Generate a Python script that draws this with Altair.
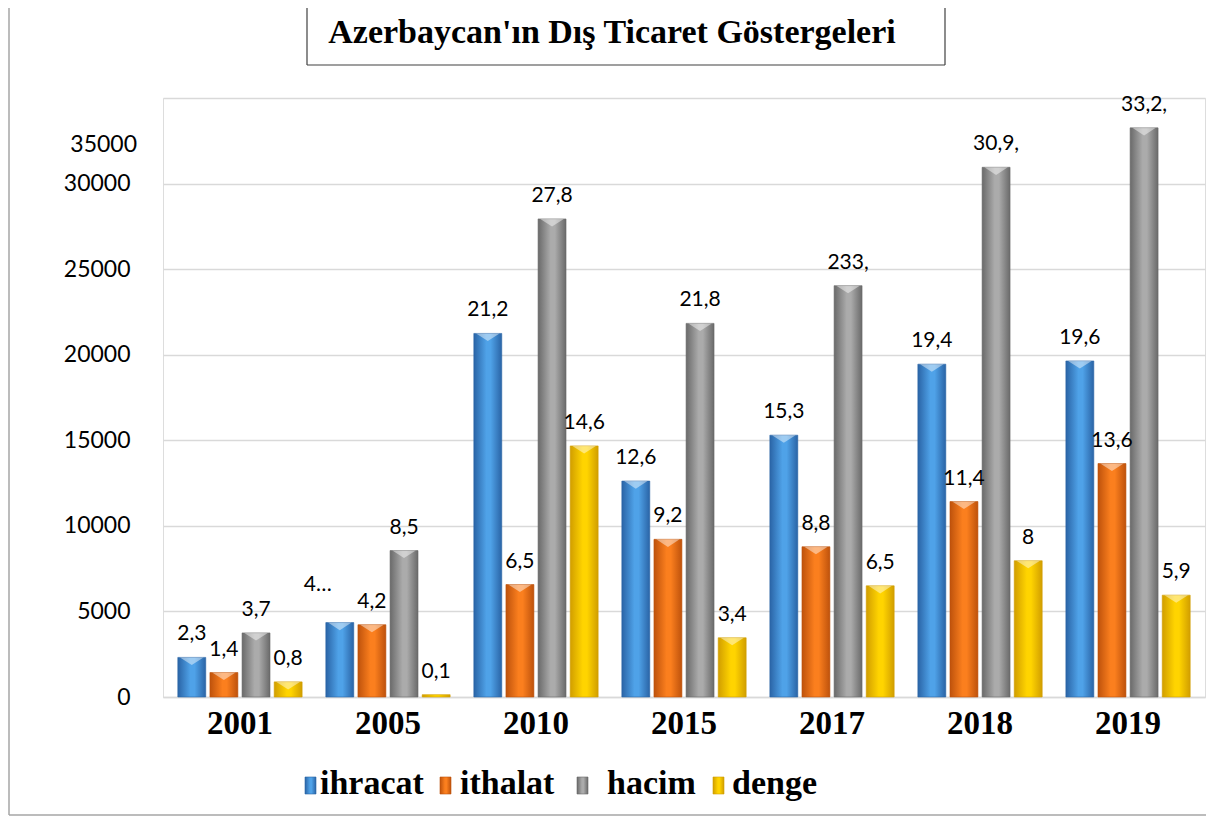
import altair as alt
import pandas as pd

years = ["2001", "2005", "2010", "2015", "2017", "2018", "2019"]
series = ["ihracat", "ithalat", "hacim", "denge"]

ihracat = [2314, 4347, 21244, 12617, 15298, 19447, 19635]
ithalat = [1431, 4226, 6573, 9213, 8780, 11421, 13642]
hacim = [3745, 8558, 27934, 21831, 24036, 30951, 33256]
denge = [883, 136, 14671, 3462, 6496, 7963, 5951]

labels_ihracat = ["2,3", "4…", "21,2", "12,6", "15,3", "19,4", "19,6"]
labels_ithalat = ["1,4", "4,2", "6,5", "9,2", "8,8", "11,4", "13,6"]
labels_hacim = ["3,7", "8,5", "27,8", "21,8", "233,", "30,9,", "33,2,"]
labels_denge = ["0,8", "0,1", "14,6", "3,4", "6,5", "8", "5,9"]

y_ticks = [0, 5000, 10000, 15000, 20000, 25000, 30000, 35000]

title_text = "Azerbaycan'ın Dış Ticaret Göstergeleri"

# colours: (edge, centre)
colors = {
    "ihracat": ("#2A64A6", "#4FA2E8"),
    "ithalat": ("#BE520C", "#FB7F1E"),
    "hacim": ("#6A6A6A", "#ABABAB"),
    "denge": ("#D19E00", "#FFD400"),
}

values = {"ihracat": ihracat, "ithalat": ithalat, "hacim": hacim, "denge": denge}
labels = {"ihracat": labels_ihracat, "ithalat": labels_ithalat,
          "hacim": labels_hacim, "denge": labels_denge}

rows = []
for s in series:
    for i, y in enumerate(years):
        rows.append({"year": y, "series": s, "value": values[s][i], "label": labels[s][i]})
df = pd.DataFrame(rows)
one = pd.DataFrame({"k": [0]})

W, H = 1042, 599
BOTTOM = 119

x_enc = alt.X("year:N", sort=years,
              scale=alt.Scale(paddingInner=0.16, paddingOuter=0.1),
              axis=alt.Axis(title=None, labelAngle=0, labelFont="Liberation Serif",
                            labelFontWeight="bold", labelFontSize=33, labelColor="black",
                            ticks=False, domainColor="#D9D9D9", domainWidth=1.5,
                            labelPadding=10))
xo_enc = alt.XOffset("series:N", sort=series,
                     scale=alt.Scale(domain=series, paddingInner=0.13, paddingOuter=0))
y_enc = alt.Y("value:Q", scale=alt.Scale(domain=[0, 35000], nice=False),
              axis=alt.Axis(title=None, values=y_ticks, format="d",
                            labelExpr="datum.value >= 35000 ? '' : datum.label",
                            labelFont="Lato", labelFontSize=23, labelColor="black",
                            ticks=False, domain=False, labelPadding=33,
                            gridColor="#D9D9D9", gridWidth=1.5))


def grad(s):
    e, c = colors[s]
    return alt.Gradient(gradient="linear", x1=0, x2=1, y1=0, y2=0,
                        stops=[alt.GradientStop(color=e, offset=0),
                               alt.GradientStop(color=c, offset=0.45),
                               alt.GradientStop(color=c, offset=0.6),
                               alt.GradientStop(color=e, offset=1)])


layers = []
for s in series:
    layers.append(
        alt.Chart(df).transform_filter(alt.datum.series == s)
        .mark_bar(fill=grad(s), stroke=colors[s][0], strokeWidth=0.6)
        .encode(x=x_enc, xOffset=xo_enc, y=y_enc)
    )

# bevel cap (light triangle at the top of each bar)
layers.append(
    alt.Chart(df).transform_filter("datum.value > 400")
    .mark_point(shape="M-0.85,0L0.85,0L0,0.55Z", filled=True, fill="white",
                opacity=0.45, strokeWidth=0, size=760)
    .encode(x=x_enc, xOffset=xo_enc, y=y_enc)
)

base_txt = alt.Chart(df)
layers.append(
    base_txt.transform_filter("datum.label != '4…'")
    .mark_text(baseline="alphabetic", dy=-17, font="Lato", fontSize=21, color="black")
    .encode(x=x_enc, xOffset=xo_enc, y=y_enc, text="label:N")
)
layers.append(
    base_txt.transform_filter("datum.label == '4…'")
    .mark_text(baseline="alphabetic", dx=-22, dy=-32, font="Lato", fontSize=21, color="black")
    .encode(x=x_enc, xOffset=xo_enc, y=y_enc, text="label:N")
)

# lone 35000 label (shifted as in the original)
layers.append(
    alt.Chart(one).mark_text(text="35000", align="right", baseline="middle",
                             font="Lato", fontSize=23, color="black")
    .encode(x=alt.value(-26), y=alt.value(47))
)

# outer border
border_col = "#A6A6A6"
layers.append(alt.Chart(one).mark_rule(color=border_col, strokeWidth=1.5)
              .encode(x=alt.value(-154), y=alt.value(-90), y2=alt.value(H + BOTTOM - 1)))
layers.append(alt.Chart(one).mark_rule(color=border_col, strokeWidth=1.5)
              .encode(x=alt.value(-154), x2=alt.value(1043), y=alt.value(H + BOTTOM - 1)))

# title box
box_col = "#404040"
layers.append(alt.Chart(one).mark_rule(color=box_col, strokeWidth=1.2)
              .encode(x=alt.value(144), y=alt.value(-90), y2=alt.value(-33)))
layers.append(alt.Chart(one).mark_rule(color=box_col, strokeWidth=1.2)
              .encode(x=alt.value(782), y=alt.value(-90), y2=alt.value(-33)))
layers.append(alt.Chart(one).mark_rule(color=box_col, strokeWidth=1.2)
              .encode(x=alt.value(144), x2=alt.value(782), y=alt.value(-33)))
layers.append(alt.Chart(one).mark_text(text=title_text, align="center", baseline="middle",
                                       font="Liberation Serif", fontWeight="bold",
                                       fontSize=34, color="black")
              .encode(x=alt.value(449), y=alt.value(-65)))

# legend
legend_sq_x = [142, 277, 414, 550]
legend_txt_x = [157, 297, 444, 569]
for i, s in enumerate(series):
    e, c = colors[s]
    layers.append(alt.Chart(one).mark_rect(fill=grad(s), stroke=e, strokeWidth=0.6)
                  .encode(x=alt.value(legend_sq_x[i]), x2=alt.value(legend_sq_x[i] + 11),
                          y=alt.value(679), y2=alt.value(696)))
    layers.append(alt.Chart(one).mark_text(text=s, align="left", baseline="middle",
                                           font="Liberation Serif", fontWeight="bold",
                                           fontSize=34, color="black")
                  .encode(x=alt.value(legend_txt_x[i]), y=alt.value(686)))

chart = alt.layer(*layers).properties(
    width=W, height=H,
    autosize=alt.AutoSizeParams(type="none"),
    padding={"left": 155, "top": 90, "right": 1, "bottom": BOTTOM},
).configure_view(stroke=None).configure(background="white")

chart.save("out.html", embed_options={"renderer": "svg", "actions": False})
